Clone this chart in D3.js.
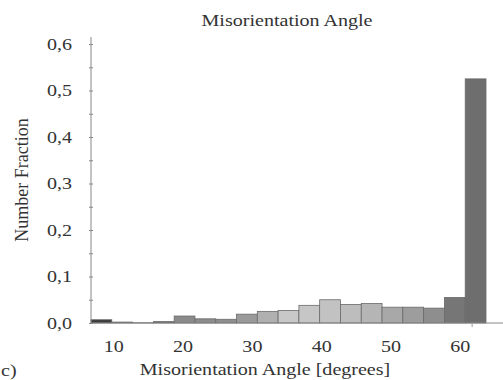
<!DOCTYPE html>
<html>
<head>
<meta charset="utf-8">
<script src="https://cdn.jsdelivr.net/npm/d3@7"></script>
<style>
  body { margin: 0; background: #fff; }
  text { font-family: "Liberation Serif", "Times New Roman", serif; fill: #333; }
</style>
</head>
<body>
<div id="chart"></div>
<script>
// bin start angles (degrees), 3 degree bins
const binStarts = [7, 10, 13, 16, 19, 22, 25, 28, 31, 34, 37, 40, 43, 46, 49, 52, 55, 58, 61];
const binWidth = 3;
// number fraction per bin
const fractions = [0.007, 0.002, 0.0005, 0.003, 0.015, 0.009, 0.008, 0.019, 0.025, 0.027,
                   0.038, 0.050, 0.040, 0.042, 0.034, 0.034, 0.032, 0.055, 0.525];
const xTicks = [10, 20, 30, 40, 50, 60];
const yTicks = [0, 0.1, 0.2, 0.3, 0.4, 0.5, 0.6];

// grey shades of the bars
const shades = ["#3c3c3c", "#585858", "#707070", "#646464", "#8a8a8a", "#8c8c8c", "#8e8e8e",
                "#9a9a9a", "#b0b0b0", "#c8c8c8", "#c6c6c6", "#c2c2c2", "#bdbdbd", "#b5b5b5",
                "#a8a8a8", "#9d9d9d", "#8e8e8e", "#767676", "#6e6e6e"];

const W = 503, H = 380;
const sx = 1.18; // horizontal stretch of the lettering

const svg = d3.select("#chart").append("svg")
  .attr("width", W).attr("height", H);

const x = d3.scaleLinear().domain([7, 64]).range([91, 486]);
const y = d3.scaleLinear().domain([0, 0.6]).range([323, 44]);

function label(txt, px, py, anchor, size) {
  svg.append("g")
    .attr("transform", `translate(${px},${py}) scale(${sx},1)`)
    .append("text")
      .attr("text-anchor", anchor)
      .style("font-size", size + "px")
      .text(txt);
}

// bars
svg.selectAll("rect.bar")
  .data(fractions)
  .enter().append("rect")
    .attr("class", "bar")
    .attr("x", (d, i) => x(binStarts[i]))
    .attr("width", (d, i) => x(binStarts[i] + binWidth) - x(binStarts[i]))
    .attr("y", d => y(d))
    .attr("height", d => y(0) - y(d))
    .attr("fill", (d, i) => shades[i])
    .attr("stroke", "#6a6a6a")
    .attr("stroke-width", 0.8);

// y axis, with minor ticks every 0.05
const yAxis = svg.append("g")
  .attr("transform", "translate(91,0)")
  .call(d3.axisLeft(y).tickValues(d3.range(0, 0.61, 0.05)).tickSize(2).tickFormat(""));
yAxis.select(".domain").attr("stroke", "#888").attr("d", `M0,37V${y(0)}`);
yAxis.selectAll(".tick line").attr("stroke", "#888").attr("x2", 2).attr("x1", -2);

yTicks.forEach(v => label(d3.format(".1f")(v).replace(".", ","), 72, y(v) + 5.5, "end", 17));

// x axis line
svg.append("line")
  .attr("x1", 91).attr("x2", W)
  .attr("y1", y(0)).attr("y2", y(0))
  .attr("stroke", "#888");
svg.append("line")
  .attr("x1", x(62)).attr("x2", x(62))
  .attr("y1", y(0) + 1).attr("y2", y(0) + 4)
  .attr("stroke", "#999");

xTicks.forEach(v => label(String(v), x(v) + 2, 352, "middle", 17));

// titles
label("Misorientation Angle", 287, 26, "middle", 17);
label("Misorientation Angle [degrees]", 265, 375, "middle", 17);
label("c)", 1, 376, "start", 17);

svg.append("text")
  .attr("transform", "translate(28,180) rotate(-90)")
  .attr("text-anchor", "middle")
  .style("font-size", "18px")
  .text("Number Fraction");
</script>
</body>
</html>
